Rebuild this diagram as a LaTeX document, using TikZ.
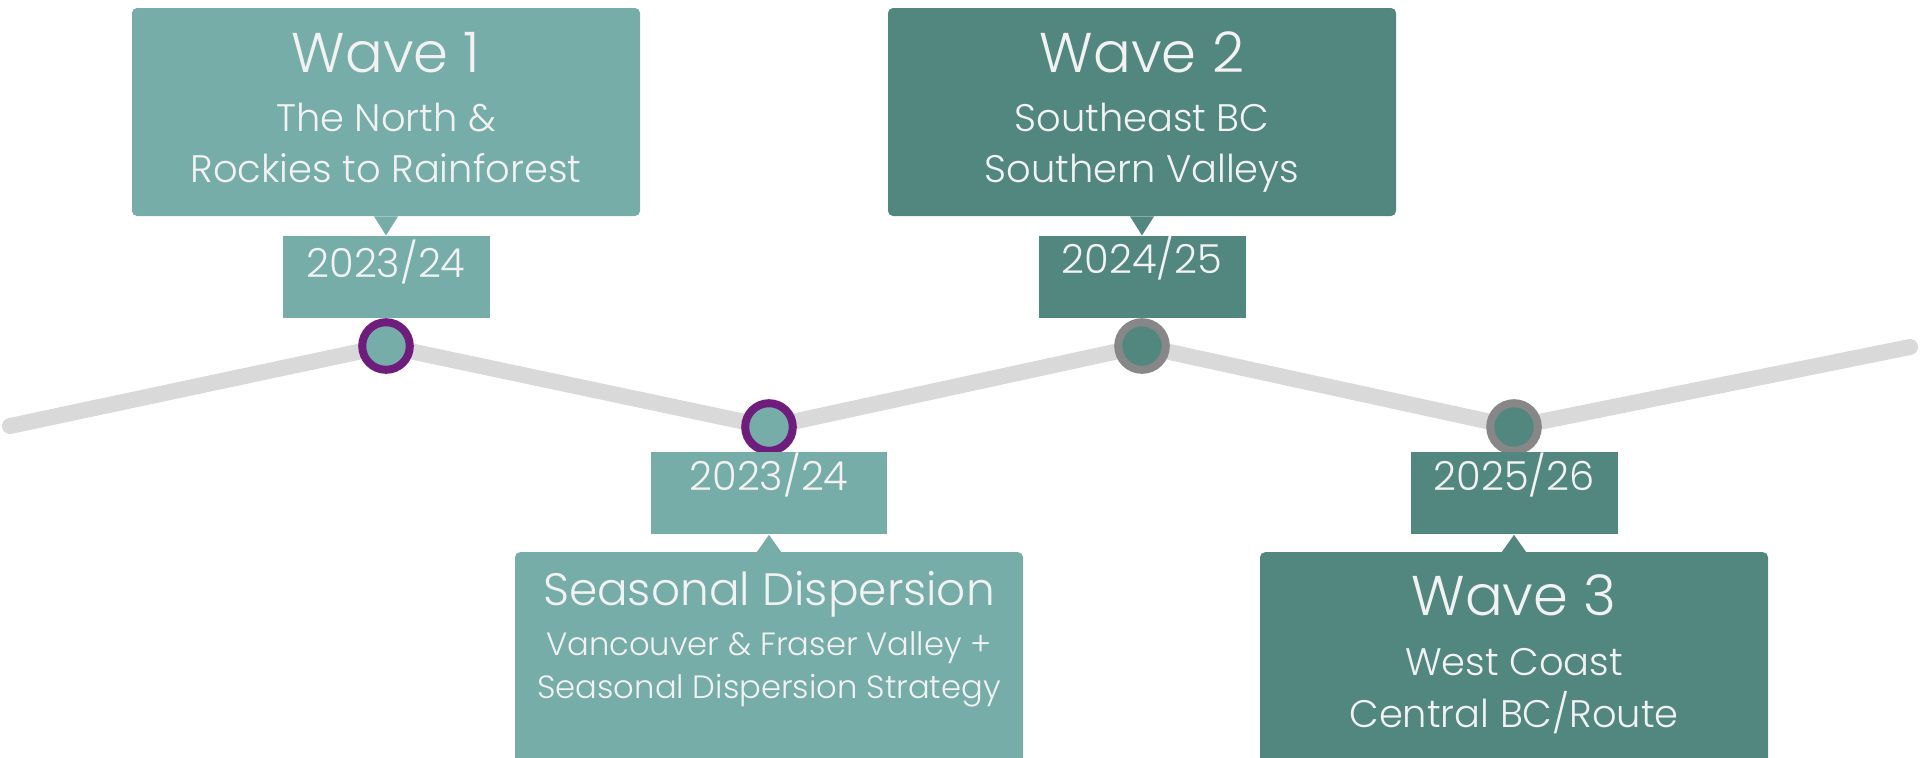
\documentclass[tikz,border=0pt]{standalone}
\usepackage{fontspec}
\setmainfont{Poppins Light}
\usetikzlibrary{positioning,backgrounds}

\definecolor{tealA}{RGB}{118,173,169}
\definecolor{tealB}{RGB}{82,135,128}
\definecolor{ringA}{RGB}{110,29,125}
\definecolor{ringB}{RGB}{135,135,135}
\definecolor{trackgray}{RGB}{217,217,217}
\definecolor{textwhite}{RGB}{242,242,242}

\tikzset{
  wavebox/.style={rectangle, rounded corners=2.5pt, minimum width=254pt, minimum height=104pt, inner sep=0pt},
  datebox/.style={rectangle, minimum width=103.5pt, inner sep=0pt, text=textwhite, font=\fontsize{20}{20}\selectfont},
  milestone/.style={circle, minimum size=23.8pt, inner sep=0pt, line width=4pt},
  wavetitle/.style={text=textwhite, anchor=base, inner sep=0pt, font=\fontsize{28}{28}\selectfont},
  wavesub/.style={text=textwhite, anchor=base, inner sep=0pt, font=\fontsize{19.2}{19.2}\selectfont},
  track/.style={trackgray, line width=8pt, line cap=round}
}

\begin{document}
\begin{tikzpicture}[x=0.5pt, y=-0.5pt]
        \useasboundingbox (0,0) rectangle (1920,757);
        \clip (0,0) rectangle (1920,757);

        % milestones on the track
        \node[milestone, fill=tealA, draw=ringA] (p1) at (386,346) {};
        \node[milestone, fill=tealA, draw=ringA] (p2) at (769,427) {};
        \node[milestone, fill=tealB, draw=ringB] (p3) at (1142,346) {};
        \node[milestone, fill=tealB, draw=ringB] (p4) at (1514,427) {};
        \coordinate (start) at (10,426);
        \coordinate (end) at (1910,347);

        % year boxes
        \node[datebox, fill=tealA, text height=21pt, text depth=20pt, above=0pt of p1] (d1) {2023/24\hspace{7.5pt}};
        \node[datebox, fill=tealA, minimum width=118pt, text height=19pt, text depth=22pt, below=-1.4pt of p2] (d2) {2023/24};
        \node[datebox, fill=tealB, text height=19pt, text depth=22pt, above=0pt of p3] (d3) {2024/25};
        \node[datebox, fill=tealB, text height=19pt, text depth=22pt, below=-1.4pt of p4] (d4) {2025/26};

        % wave boxes
        \node[wavebox, fill=tealA, above=9.5pt of d1] (wave1) {};
        \node[wavebox, fill=tealB, above=9.5pt of d3] (wave2) {};
        \node[wavebox, fill=tealA, minimum height=115pt, below=8.5pt of d2] (season) {};
        \node[wavebox, fill=tealB, minimum height=115pt, below=8.5pt of d4] (wave3) {};

        \fill[tealA] ([xshift=-6pt]wave1.south) -- ([xshift=6pt]wave1.south) -- (d1.north) -- cycle;
        \fill[tealB] ([xshift=-6pt]wave2.south) -- ([xshift=6pt]wave2.south) -- (d3.north) -- cycle;
        \fill[tealA] ([xshift=-6pt]season.north) -- ([xshift=6pt]season.north) -- (d2.south) -- cycle;
        \fill[tealB] ([xshift=-6pt]wave3.north) -- ([xshift=6pt]wave3.north) -- (d4.south) -- cycle;

        \node[wavetitle] at ([yshift=-32.5pt]wave1.north) {Wave 1};
        \node[wavesub] at ([yshift=-62pt]wave1.north) {The North \&};
        \node[wavesub] at ([yshift=-87.5pt]wave1.north) {Rockies to Rainforest};

        \node[wavetitle] at ([yshift=-32.5pt]wave2.north) {Wave 2};
        \node[wavesub] at ([yshift=-62pt]wave2.north) {Southeast BC};
        \node[wavesub] at ([yshift=-87.5pt]wave2.north) {Southern Valleys};

        \node[wavetitle, font=\fontsize{22.7}{22.7}\selectfont] at ([yshift=-27pt]season.north) {Seasonal Dispersion};
        \node[wavesub, font=\fontsize{16.1}{16.1}\selectfont] at ([yshift=-52pt]season.north) {Vancouver \& Fraser Valley +};
        \node[wavesub, font=\fontsize{16.1}{16.1}\selectfont] at ([yshift=-73.5pt]season.north) {Seasonal Dispersion Strategy};

        \node[wavetitle] at ([yshift=-32pt]wave3.north) {Wave 3};
        \node[wavesub] at ([yshift=-62pt]wave3.north) {West Coast};
        \node[wavesub] at ([yshift=-88pt]wave3.north) {Central BC/Route};

        \begin{pgfonlayer}{background}
          \draw[track] (start) -- (p1.center) -- (p2.center) -- (p3.center) -- (p4.center) -- (end);
        \end{pgfonlayer}
\end{tikzpicture}
\end{document}
